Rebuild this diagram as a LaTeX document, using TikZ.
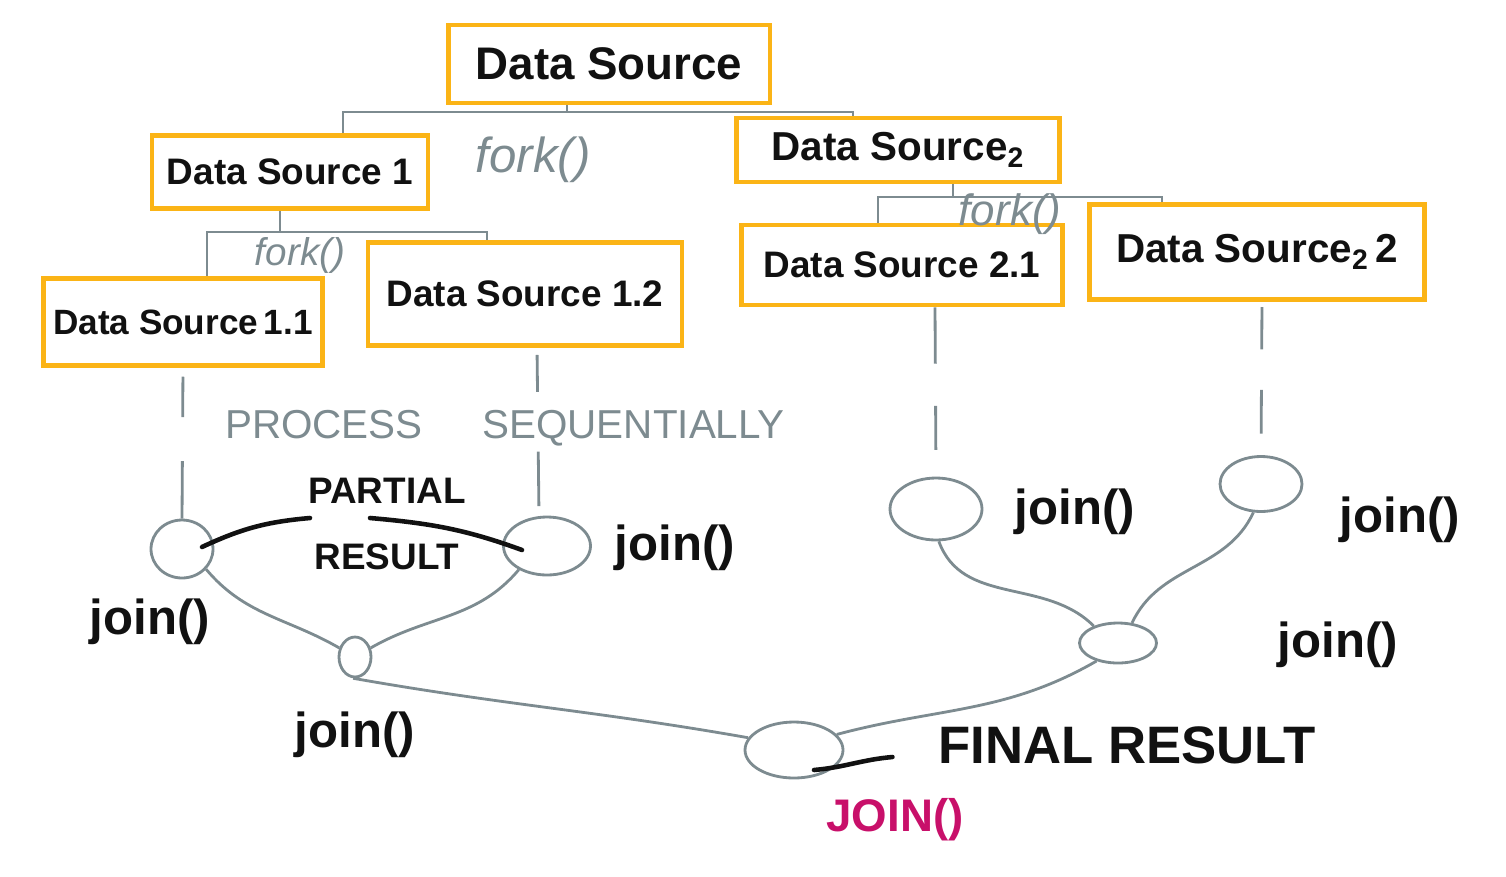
\documentclass[tikz,border=0pt]{standalone}
\usepackage{fontspec}
\setmainfont{Liberation Sans}
\usepackage{xcolor}
\usetikzlibrary{positioning, calc, shapes.geometric}
\definecolor{cBox}{HTML}{FBB416}
\definecolor{cWire}{HTML}{7D8B90}
\definecolor{cInk}{HTML}{111111}
\definecolor{cJoin}{HTML}{C8106A}
\tikzset{
  src/.style={rectangle, draw=cBox, line width=2.8pt, inner sep=0pt, align=center,
    font=\fontsize{21}{24}\selectfont\bfseries, text=cInk},
  joint/.style={ellipse, draw=cWire, line width=1.6pt, inner sep=0pt},
  fork/.style={draw=cWire, line width=1.6pt},
  link/.style={draw=cWire, line width=1.6pt},
  note/.style={font=\fontsize{23}{27}\selectfont, text=cWire},
  lbl/.style={font=\fontsize{28}{30}\selectfont\bfseries, text=cInk},
  ink/.style={draw=cInk, line width=2.6pt, line cap=round},
}

\begin{document}
\begin{tikzpicture}[x=0.02cm, y=0.02cm]
\useasboundingbox (0,0) rectangle (1506,-876);

% data sources
\node[src, minimum width=64.4mm, minimum height=15.6mm, font=\fontsize{26}{30}\selectfont\bfseries] (ds) at (609,-64) {Data Source};
\node[src, minimum width=55.2mm, minimum height=14.6mm] (ds1) at (290,-172) {Data Source 1};
\node[src, minimum width=64.6mm, minimum height=12.8mm, font=\fontsize{23}{26}\selectfont\bfseries] (ds2) at (898,-150) {Data Source\textsubscript{2}};
\node[src, minimum width=55.8mm, minimum height=17.4mm, font=\fontsize{20}{24}\selectfont\bfseries] (ds11) at (183,-322) {Data Source\,1.1};
\node[src, minimum width=62.8mm, minimum height=20.6mm] (ds12) at (525,-294) {Data Source 1.2};
\node[src, minimum width=64.2mm, minimum height=16mm] (ds21) at (902,-265) {Data Source 2.1};
\node[src, minimum width=67mm, minimum height=19mm, font=\fontsize{23}{26}\selectfont\bfseries] (ds22) at (1257,-252) {Data Source\textsubscript{2}\,2};

% forks
\coordinate (f0) at (567,-112);
\coordinate (f1) at (280,-232);
\coordinate (f2) at (953,-197);
\draw[fork] (ds.south -| f0) -- (f0);
\draw[fork] ($(ds1.north)+(53,0)$) |- (f0) -| ($(ds2.north)+(-45,0)$);
\draw[fork] (ds1.south -| f1) -- (f1);
\draw[fork] ($(ds11.north)+(24,0)$) |- (f1) -| ($(ds12.north)+(-38,0)$);
\draw[fork] (ds2.south -| f2) -- (f2);
\draw[fork] ($(ds21.north)+(-24,0)$) |- (f2) -| ($(ds22.north)+(-95,0)$);
\node[note, font=\fontsize{28}{32}\selectfont\itshape] (fk0) at (533,-160) {fork()};
\node[note, font=\fontsize{22}{26}\selectfont\itshape] (fk1) at (300,-255) {fork()};
\node[note, font=\fontsize{25}{28}\selectfont\itshape] (fk2) at (1010,-214) {fork()};

% joins
\foreach \n/\x/\y/\w/\h in {j11/182/549/12.4mm/11.6mm, j12/547/546/17.4mm/11.6mm, j1/355/657/6.4mm/8mm,
    j21/936/509/18.4mm/12.4mm, j22/1261/484/16.4mm/11mm, j2/1118/643/15.4mm/8mm, jf/794/750/19.6mm/11.2mm}
  \node[joint, minimum width=\w, minimum height=\h] (\n) at (\x,-\y) {};

\draw[link, dash pattern=on 23pt off 25pt on 40pt off 5pt, shorten <=5pt] (ds11.south) -- (j11.north);
\draw[link, dash pattern=on 21pt off 34pt on 31pt off 10pt, shorten <=4pt] ($(ds12.south)+(12,0)$) -- ($(j12.north)+(-8,0)$);
\draw[link, dash pattern=on 32pt off 24pt on 25pt off 30pt] ($(ds21.south)+(33,0)$) -- (j21.north);
\draw[link, dash pattern=on 24pt off 23pt on 25pt off 30pt, shorten <=3pt] ($(ds22.south)+(5,0)$) -- (j22.north);

\node[note] (seq) at (505,-428) {PROCESS\hspace{34pt}SEQUENTIALLY};

\foreach \a/\b/\o/\i in {j11.-40/j1.150/-50/150, j12.-140/j1.30/-130/30, j1.-95/jf.165/-10/170,
    j21.-85/j2.145/-70/135, j22.-105/j2.55/-115/65, j2.-140/jf.20/-150/15}
  \draw[link] (\a) to[out=\o,in=\i] (\b);

% labels
\foreach \n/\x/\y in {l11/150/622, l12/675/548, l1/355/735, l21/1075/512, l22/1400/520, l2/1338/645}
  \node[lbl] (\n) at (\x,-\y) {join()};

\node[lbl, font=\fontsize{21}{24}\selectfont\bfseries, align=center] (partial) at (387,-524) {PARTIAL\\[14pt]RESULT};
\draw[ink] ($(j11.center)+(20,2)$) to[out=25,in=185] ($(partial.center)+(-77,6)$);
\draw[ink] ($(partial.center)+(-17,6)$) to[out=-5,in=160] ($(j12.center)+(-25,-4)$);

\node[lbl, font=\fontsize{30}{34}\selectfont\bfseries] (final) at (1127,-745) {FINAL RESULT};
\draw[ink] ($(jf.center)+(20,-20)$) to[out=5,in=185] ($(final.west)+(-40,-12)$);
\node[lbl, text=cJoin, font=\fontsize{26}{30}\selectfont\bfseries] (jlbl) at (895,-820) {JOIN()};
\end{tikzpicture}
\end{document}
